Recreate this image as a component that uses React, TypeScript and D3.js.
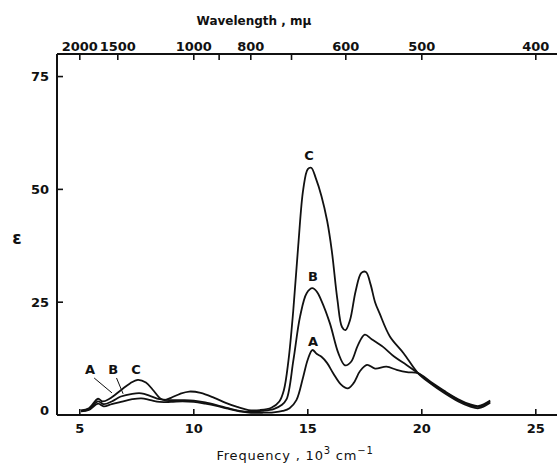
import React from "react";
import * as d3 from "d3";

// frequency in 10^3 cm^-1, epsilon
const curveA: [number, number][] = [
  [5.05, 0.8], [5.4, 1.1], [5.8, 2.5], [6.05, 1.9], [6.4, 2.4], [6.8, 2.9], [7.3, 3.5], [7.7, 3.7],
  [8.1, 3.3], [8.5, 2.9], [9.0, 2.9], [9.5, 3.0], [10.0, 2.9], [10.5, 2.5], [11.0, 2.0], [11.5, 1.4],
  [12.0, 0.8], [12.5, 0.5], [13.0, 0.5], [13.5, 0.6], [13.9, 0.9], [14.2, 1.5], [14.5, 3.3], [14.8, 8.5],
  [15.0, 12.3], [15.2, 14.4], [15.4, 13.5], [15.6, 12.9], [15.85, 11.5], [16.12, 9.2], [16.45, 6.8],
  [16.75, 5.9], [17.0, 7.0], [17.3, 9.8], [17.6, 11.1], [17.95, 10.3], [18.45, 10.7], [18.9, 10.0],
  [19.35, 9.5], [19.83, 9.3], [20.4, 7.3], [21.0, 5.3], [21.6, 3.5], [22.1, 2.4], [22.5, 2.0], [23.0, 3.2],
];
const curveB: [number, number][] = [
  [5.05, 0.9], [5.4, 1.3], [5.8, 3.0], [6.05, 2.4], [6.4, 3.0], [6.8, 4.1], [7.3, 4.7], [7.7, 4.8],
  [8.1, 4.2], [8.5, 3.5], [9.0, 3.3], [9.5, 3.3], [10.0, 3.2], [10.5, 2.8], [11.0, 2.2], [11.5, 1.5],
  [12.0, 0.9], [12.5, 0.7], [13.0, 0.9], [13.5, 1.3], [13.85, 2.2], [14.07, 3.5], [14.37, 12.2],
  [14.66, 21.8], [14.95, 27.0], [15.2, 28.1], [15.4, 27.3], [15.6, 25.3], [15.97, 20.3], [16.34, 13.7],
  [16.63, 11.0], [16.9, 11.8], [17.2, 15.5], [17.5, 17.8], [17.8, 16.8], [18.3, 15.1], [18.8, 12.9],
  [19.33, 11.1], [19.83, 9.3], [20.4, 7.1], [21.0, 5.1], [21.6, 3.3], [22.1, 2.2], [22.5, 1.8], [23.0, 3.0],
];
const curveC: [number, number][] = [
  [5.05, 1.0], [5.4, 1.5], [5.8, 3.6], [6.0, 3.0], [6.3, 3.6], [6.8, 5.5], [7.2, 7.0], [7.55, 7.8],
  [7.9, 7.2], [8.2, 5.6], [8.5, 3.8], [8.7, 3.3], [9.0, 3.8], [9.4, 4.7], [9.8, 5.2], [10.3, 4.9],
  [10.9, 3.8], [11.4, 2.7], [11.9, 1.8], [12.4, 1.1], [12.9, 1.1], [13.4, 1.6], [13.75, 3.0],
  [13.95, 5.5], [14.15, 12.0], [14.36, 23.0], [14.58, 37.5], [14.8, 50.0], [15.0, 54.5], [15.15, 54.8],
  [15.35, 52.5], [15.6, 48.5], [15.85, 43.0], [16.05, 36.5], [16.3, 25.5], [16.5, 19.5], [16.65, 18.8],
  [16.85, 21.0], [17.1, 27.5], [17.35, 31.5], [17.55, 31.7], [17.75, 29.0], [17.95, 25.0], [18.15, 22.5],
  [18.6, 17.4], [19.2, 13.7], [19.83, 9.3], [20.4, 6.9], [21.0, 4.8], [21.6, 3.0], [22.1, 1.9],
  [22.5, 1.5], [23.0, 2.7],
];

const freqTicks = [5, 10, 15, 20, 25];
const epsTicks = [0, 25, 50, 75];
const waveTicks = [2000, 1500, 1000, 900, 800, 700, 600, 500, 400];
const waveLabels = [2000, 1500, 1000, 800, 600, 500, 400];

// annotations in data coordinates
const peakLabels: { t: string; f: number; v: number }[] = [
  { t: "C", f: 15.05, v: 57.6 },
  { t: "B", f: 15.23, v: 30.6 },
  { t: "A", f: 15.23, v: 16.2 },
];
const lowLabels: { t: string; f: number; v: number }[] = [
  { t: "A", f: 5.45, v: 10 },
  { t: "B", f: 6.46, v: 10 },
  { t: "C", f: 7.47, v: 10 },
];
const leaders: { f1: number; v1: number; f2: number; v2: number }[] = [
  { f1: 5.63, v1: 8.2, f2: 6.41, v2: 4.9 },
  { f1: 6.61, v1: 8.2, f2: 6.9, v2: 4.7 },
];

const W = 557;
const H = 465;
const left = 57;
const top = 54;
const bottom = 415;

export default function App() {
  const x = d3.scaleLinear().domain([4, 26]).range([left, left + 22 * 22.8]);
  const y = d3.scaleLinear().domain([0, 80]).range([bottom, top]);
  const line = d3
    .line<[number, number]>()
    .x((d) => x(d[0]))
    .y((d) => y(d[1]))
    .curve(d3.curveCatmullRom.alpha(0.5));
  const ink = "#111";
  const font = "DejaVu Sans, sans-serif";
  return (
    <div style={{ position: "absolute", left: 0, top: 0 }}>
      <svg width={W} height={H} style={{ display: "block", background: "#fff" }}>
        <g fill="none" stroke={ink} strokeWidth={2}>
          <line x1={left} y1={top} x2={W} y2={top} />
          <line x1={left} y1={bottom} x2={W} y2={bottom} />
          <line x1={left} y1={top} x2={left} y2={bottom} />
          {waveTicks.map((w) => (
            <line key={"w" + w} x1={x(1e4 / w)} x2={x(1e4 / w)} y1={top} y2={top + 6} strokeWidth={1.6} />
          ))}
          {freqTicks.map((f) => (
            <line key={"f" + f} x1={x(f)} x2={x(f)} y1={bottom} y2={bottom - 6} strokeWidth={1.6} />
          ))}
          {epsTicks.filter((e) => e > 0).map((e) => (
            <line key={"e" + e} x1={left} x2={left + 6} y1={y(e)} y2={y(e)} strokeWidth={1.6} />
          ))}
        </g>
        <g fill="none" stroke={ink} strokeWidth={1.8} strokeLinejoin="round">
          <path d={line(curveA) || ""} />
          <path d={line(curveB) || ""} />
          <path d={line(curveC) || ""} />
        </g>
        <g stroke={ink} strokeWidth={1}>
          {leaders.map((l, i) => (
            <line key={i} x1={x(l.f1)} y1={y(l.v1)} x2={x(l.f2)} y2={y(l.v2)} />
          ))}
        </g>
        <g fill={ink} fontFamily={font} fontWeight="bold">
          {waveLabels.map((w) => (
            <text key={"wl" + w} x={x(1e4 / w)} y={46} fontSize={13} textAnchor="middle" dominantBaseline="central">
              {w}
            </text>
          ))}
          {freqTicks.map((f) => (
            <text key={"fl" + f} x={x(f)} y={428} fontSize={13} textAnchor="middle" dominantBaseline="central">
              {f}
            </text>
          ))}
          {epsTicks.map((e) => (
            <text key={"el" + e} x={49} y={e === 0 ? y(e) - 5 : y(e)} fontSize={13} textAnchor="end" dominantBaseline="central">
              {e}
            </text>
          ))}
          {peakLabels.map((p, i) => (
            <text key={"p" + i} x={x(p.f)} y={y(p.v)} fontSize={13} textAnchor="middle" dominantBaseline="central">
              {p.t}
            </text>
          ))}
          {lowLabels.map((p, i) => (
            <text key={"l" + i} x={x(p.f)} y={y(p.v)} fontSize={13} textAnchor="middle" dominantBaseline="central">
              {p.t}
            </text>
          ))}
          <text x={254} y={21} fontSize={12} textAnchor="middle" dominantBaseline="central">
            Wavelength , mμ
          </text>
          <text x={17} y={238} fontSize={17} textAnchor="middle" dominantBaseline="central">
            ε
          </text>
        </g>
        <text x={295} y={455} fontFamily={font} fontSize={13} fill={ink} textAnchor="middle" dominantBaseline="central" letterSpacing={0.8}>
          Frequency ,  10<tspan dy={-5} fontSize={10}>3</tspan>
          <tspan dy={5}> cm</tspan>
          <tspan dy={-5} fontSize={10}>−1</tspan>
        </text>
      </svg>
    </div>
  );
}
